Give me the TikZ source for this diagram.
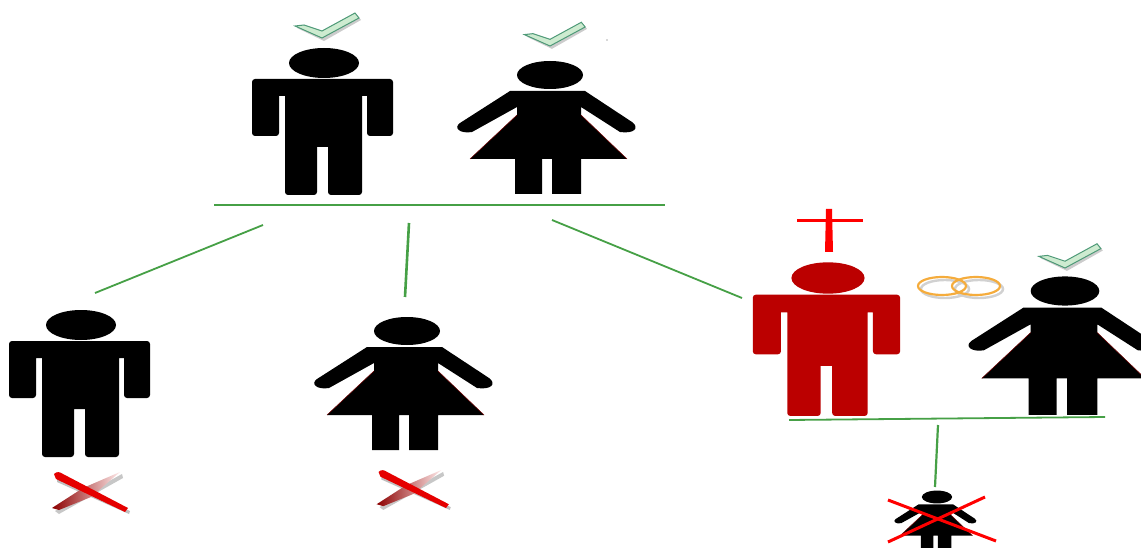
\documentclass[tikz,border=0pt]{standalone}
\definecolor{linegreen}{HTML}{46A046}
\definecolor{darkred}{HTML}{BB0000}
\definecolor{ringorange}{HTML}{F5AC3C}
\definecolor{okfill}{HTML}{CDEBD0}
\definecolor{okline}{HTML}{4F9A78}
\tikzset{
  man/.pic={
    \fill[pic actions] (0,0) ellipse [x radius=35,y radius=15];
    \fill[pic actions,rounded corners=3] (-72,16) -- (-72,73) -- (-45,73) [sharp corners] -- (-45,33) -- (-39,33) [rounded corners=3] -- (-39,132) -- (-7,132) [sharp corners] -- (-7,84) -- (4,84) [rounded corners=3] -- (4,132) -- (38,132) [sharp corners] -- (38,33) -- (43,33) [rounded corners=3] -- (43,73) -- (69,73) -- (69,16) -- cycle;
  },
  woman/.pic={
    \fill[pic actions] (0,0) ellipse [x radius=33,y radius=14];
    \fill[pic actions] (-40,16) -- (-90,48) .. controls (-97,53) and (-90,59) .. (-78,57) -- (-33,32) -- (-33,40) -- (-80,84) -- (-35,84) -- (-35,119) -- (-8,119) -- (-8,84) -- (2,84) -- (2,119) -- (31,119) -- (31,84) -- (77,84) -- (31,40) -- (31,32) -- (70,57) .. controls (84,59) and (90,53) .. (82,47) -- (35,16) -- cycle;
    \draw[skirtedge] (-33,40) -- (-80,84);
    \draw[skirtedge] (31,40) -- (77,84);
  },
  skirtedge/.style={draw=red!45!black,line width=.5},
  okmark/.pic={
    \fill[black,opacity=.2] (-25,-10) -- (-16,-11) -- (2,-5) -- (35,-23) -- (39,-18) -- (2,3) -- cycle;
    \filldraw[draw=okline,fill=okfill,line width=1] (-27,-12) -- (-18,-13) -- (0,-7) -- (33,-25) -- (37,-20) -- (0,0) -- cycle;
  },
  badmark/.pic={
    \fill[black,opacity=.22] (-30,18) -- (37,-19) -- (38,-15) -- (-26,21) -- cycle;
    \fill[black,opacity=.25] (-28,-14) -- (45,18) -- (44,21) -- (-28,-11) -- cycle;
    \shade[left color=darkred!75!black,right color=red!8] (-33,15) -- (-2,-5) -- (35,-21) -- (6,4) -- (-26,17) -- cycle;
    \fill[red!90!black] (-31,-19) .. controls (-28,-22) and (-25,-21) .. (-22,-19) -- (43,15) -- (40,19) -- (-29,-14) -- cycle;
  },
  link/.style={draw=linegreen,line width=1.8},
  linkthick/.style={draw=linegreen,line width=2.6},
}
\begin{document}
\begin{tikzpicture}[x=1pt,y=-1pt]
\useasboundingbox (0,0) rectangle (1141,548);
\clip (0,0) rectangle (1141,548);
\fill[white] (0,0) rectangle (1141,548);
% connector ends
\coordinate (top-l) at (214,205); \coordinate (top-r) at (665,205);
\coordinate (a1) at (263,225); \coordinate (a2) at (95,293);
\coordinate (b1) at (409,223); \coordinate (b2) at (405,297);
\coordinate (c1) at (552,220); \coordinate (c2) at (742,298);
\coordinate (low-l) at (789,420); \coordinate (low-r) at (1105,417);
\coordinate (d1) at (938,425); \coordinate (d2) at (935,487);
\draw[link] (top-l) -- (top-r);
\draw[link] (a1) -- (a2);
\draw[linkthick] (b1) -- (b2);
\draw[link] (c1) -- (c2);
\draw[link] (low-l) -- (low-r);
\draw[link,line width=2.2] (d1) -- (d2);
% figures
\pic at (324,63) {man};
\pic at (550,75) {woman};
\pic at (81,325) {man};
\pic at (407,331) {woman};
\pic[fill=darkred,scale=1.045] at (828,278) {man};
\pic[scale=1.04] at (1065,291) {woman};
\pic[scale=.46] at (937,497) {woman};
% marks
\pic at (322,38) {okmark};
\pic[scale=.95] at (550,46) {okmark};
\pic[scale=.97] at (1065,268) {okmark};
\pic at (85,493) {badmark};
\pic[scale=.95] at (408,490) {badmark};
% cross
\fill[red] (826,209) -- (832,209) -- (833,252) -- (825,252) -- cycle;
\draw[red,line width=3] (797,221) -- (863,221);
% rings
\draw[black!18,line width=2.4] (945,289) ellipse [x radius=24,y radius=9];
\draw[black!18,line width=2.4] (979,289) ellipse [x radius=24,y radius=9];
\draw[ringorange,line width=2.2] (942,286) ellipse [x radius=24,y radius=9];
\draw[ringorange,line width=2.2] (976,286) ellipse [x radius=24,y radius=9];
% red X over the child
\draw[red,line width=3] (888,500) -- (996,541);
\draw[red,line width=3] (985,497) -- (888,542);
% stray speck
\fill[black!30] (607,40) circle [radius=.8];
\end{tikzpicture}
\end{document}
